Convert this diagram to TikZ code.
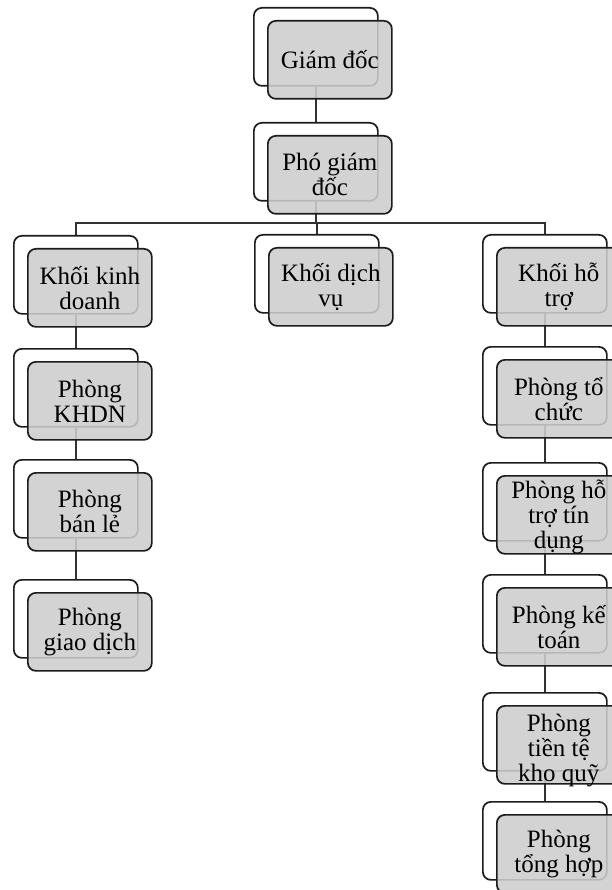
\documentclass[tikz,border=0pt]{standalone}
\usepackage{fontspec}
\setmainfont{Liberation Serif}
\usetikzlibrary{backgrounds}
\definecolor{boxgray}{RGB}{205,205,205}
\definecolor{edgeblack}{RGB}{28,28,28}
\definecolor{linegray}{RGB}{50,50,50}
\tikzset{
  backbox/.style={draw=edgeblack, line width=1.7pt, fill=white, rounded corners=8pt,
    minimum width=124pt, minimum height=78pt, inner sep=0pt, anchor=north west},
  frontbox/.style={draw=edgeblack, line width=1.7pt, fill=boxgray, fill opacity=0.88,
    rounded corners=8pt, minimum width=124pt, minimum height=78pt, inner sep=0pt, anchor=north west},
  boxtext/.style={align=center, inner sep=0pt, text=black,
    font=\fontsize{25}{25}\selectfont},
  conn/.style={draw=linegray, line width=1.6pt}
}
\newcommand\orgbox[5]{%
  \node[backbox] (#1b) at (#2,#3) {};
  \node[frontbox] (#1f) at (#2+14,#3+13) {};
  \node[boxtext, yshift=#5] (#1t) at (#1f.center) {#4};
}
\begin{document}
\begin{tikzpicture}[x=1pt, y=-1pt]
\useasboundingbox (0,0) rectangle (611,890);
\orgbox{GD}{253}{7}{Giám đốc}{0pt}
\orgbox{PGD}{253}{122}{Phó giám\\đốc}{0pt}
\orgbox{KKD}{13}{235}{Khối kinh\\doanh}{0pt}
\orgbox{KDV}{254}{234}{Khối dịch\\vụ}{0pt}
\orgbox{KHT}{482}{234}{Khối hỗ\\trợ}{0pt}
\orgbox{KHDN}{13}{348}{Phòng\\KHDN}{0pt}
\orgbox{BL}{13}{459}{Phòng\\bán lẻ}{0pt}
\orgbox{GDich}{13}{579}{Phòng\\giao dịch}{0pt}
\orgbox{TC}{482}{346}{Phòng tổ\\chức}{0pt}
\orgbox{HTTD}{482}{462}{Phòng hỗ\\trợ tín\\dụng}{-2pt}
\orgbox{KT}{482}{574}{Phòng kế\\toán}{0pt}
\orgbox{TTKQ}{482}{692}{Phòng\\tiền tệ\\kho quỹ}{-6pt}
\orgbox{TH}{482}{801}{Phòng\\tổng hợp}{0pt}
\coordinate (bus) at (316,223);
\begin{scope}[on background layer]
  \draw[conn] (GDb.south) -- (PGDb.north);
  \draw[conn] (PGDb.south) -- (PGDb.south |- bus);
  \draw[conn] (KKDb.north) |- (KHTb.north |- bus) -- (KHTb.north);
  \draw[conn] (KDVb.north) -- (KDVb.north |- bus);
  \draw[conn] (KKDb.south) -- (KHDNb.north);
  \draw[conn] (KHDNb.south) -- (BLb.north);
  \draw[conn] (BLb.south) -- (GDichb.north);
  \draw[conn] (KHTb.south) -- (TCb.north);
  \draw[conn] (TCb.south) -- (HTTDb.north);
  \draw[conn] (HTTDb.south) -- (KTb.north);
  \draw[conn] (KTb.south) -- (TTKQb.north);
  \draw[conn] (TTKQb.south) -- (THb.north);
\end{scope}
\end{tikzpicture}
\end{document}
